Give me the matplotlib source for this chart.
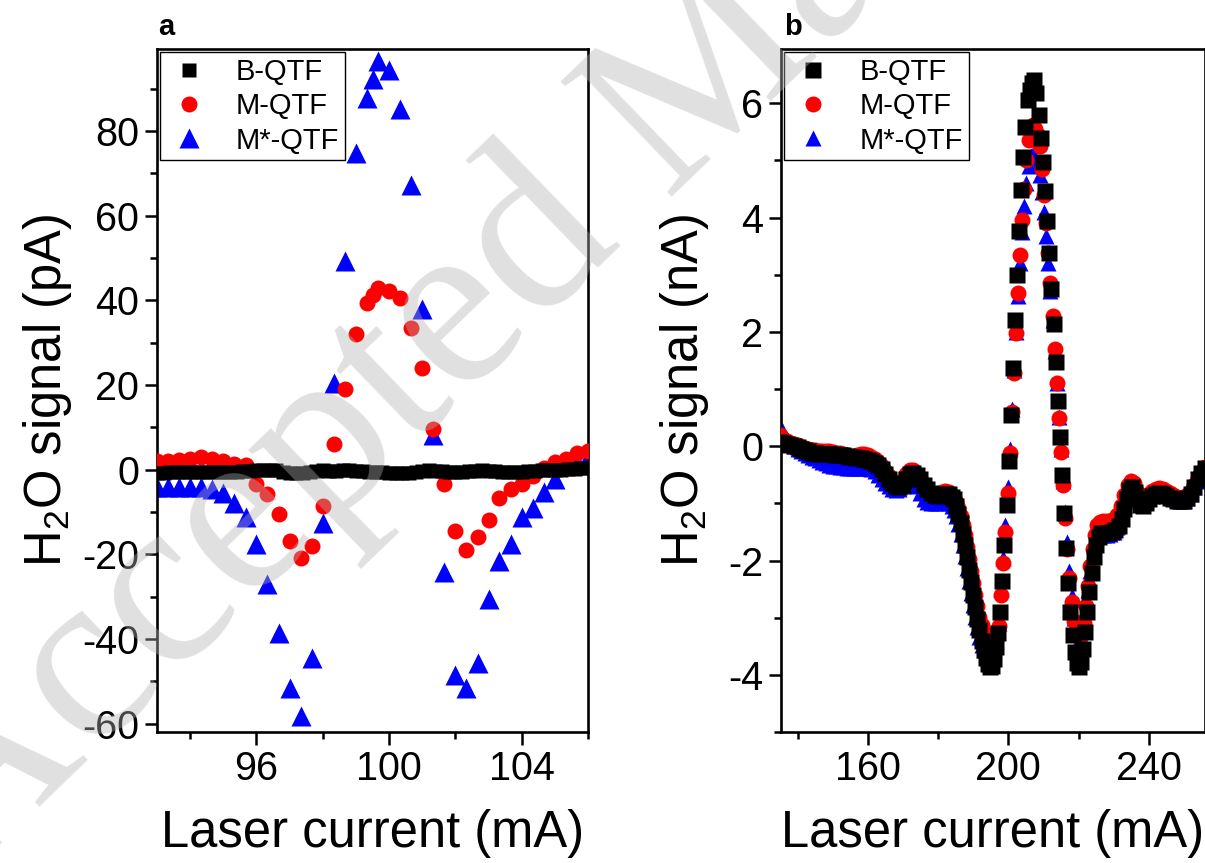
import numpy as np
import matplotlib
matplotlib.use('Agg')
import matplotlib.pyplot as plt
from matplotlib.ticker import MultipleLocator

plt.rcParams['font.family'] = ['Liberation Sans', 'DejaVu Sans']
plt.rcParams['mathtext.fontset'] = 'custom'
plt.rcParams['mathtext.rm'] = 'Liberation Sans'
plt.rcParams['mathtext.it'] = 'Liberation Sans:italic'
plt.rcParams['axes.unicode_minus'] = False

labels = ['B-QTF', 'M-QTF', 'M*-QTF']

# ---- panel a (pA) ----
xa_b = [93.0, 93.2, 93.4, 93.6, 93.8, 94.0, 94.2, 94.4, 94.6, 94.8,
        95.0, 95.2, 95.4, 95.6, 95.8, 96.0, 96.2, 96.4, 96.6, 96.8,
        97.0, 97.2, 97.4, 97.6, 97.8, 98.0, 98.2, 98.4, 98.6, 98.8,
        99.0, 99.2, 99.4, 99.6, 99.8, 100.0, 100.2, 100.4, 100.6, 100.8,
        101.0, 101.2, 101.4, 101.6, 101.8, 102.0, 102.2, 102.4, 102.6, 102.8,
        103.0, 103.2, 103.4, 103.6, 103.8, 104.0, 104.2, 104.4, 104.6, 104.8,
        105.0, 105.2, 105.4, 105.6, 105.8, 106.0]
ya_b = [-0.7, -0.7, -0.65, -0.6, -0.6, -0.55, -0.55, -0.5, -0.5, -0.5,
        -0.5, -0.45, -0.45, -0.4, -0.35, -0.2, -0.1, -0.1, -0.2, -0.5,
        -0.8, -0.9, -0.8, -0.5, -0.3, -0.2, -0.3, -0.3, -0.2, -0.2,
        -0.3, -0.4, -0.5, -0.6, -0.6, -0.7, -0.8, -0.9, -0.8, -0.5,
        -0.3, -0.2, -0.3, -0.4, -0.5, -0.6, -0.5, -0.4, -0.3, -0.2,
        -0.3, -0.4, -0.5, -0.6, -0.6, -0.5, -0.4, -0.3, -0.2, -0.1,
        -0.1, 0.0, 0.1, 0.2, 0.3, 0.4]

xa_m = [93.0, 93.33, 93.67, 94.0, 94.33, 94.67, 95.0, 95.33, 95.67, 96.0,
        96.33, 96.67, 97.0, 97.33, 97.67, 98.0, 98.33, 98.67, 99.0, 99.33,
        99.5, 99.67, 100.0, 100.33, 100.67, 101.0, 101.33, 101.67, 102.0, 102.33,
        102.67, 103.0, 103.33, 103.67, 104.0, 104.33, 104.67, 105.0, 105.33, 105.67,
        106.0]
ya_m = [2.0, 2.1, 2.3, 2.6, 3.0, 2.4, 2.0, 1.4, 1.0, -3.3,
        -5.8, -10.4, -16.8, -20.8, -18.0, -8.5, 6.1, 19.1, 32.1, 39.4,
        41.3, 43.0, 42.3, 40.6, 33.5, 24.0, 9.7, -3.5, -14.4, -18.9,
        -16.0, -12.0, -6.6, -4.5, -3.3, -1.4, 0.5, 1.7, 2.6, 4.0,
        4.5]
ya_s = [-4.0, -4.0, -4.0, -4.0, -4.0, -4.5, -5.5, -7.8, -11.3, -17.5,
        -27.0, -38.5, -51.7, -58.3, -44.4, -12.5, 20.5, 49.3, 74.8, 87.8,
        92.3, 96.6, 94.4, 85.2, 67.3, 38.0, 8.3, -24.3, -48.6, -51.5,
        -45.6, -30.5, -21.5, -17.5, -11.3, -9.0, -5.4, -2.1, 1.0, 1.7,
        2.8]

# ---- panel b (nA) ----
xb_b = [135, 136, 137, 138, 139, 140, 141, 142, 143, 144,
        145, 146, 147, 148, 149, 150, 151, 152, 153, 154,
        155, 156, 157, 158, 159, 160, 161, 162, 163, 164,
        165, 166, 167, 168, 169, 170, 171, 172, 173, 174,
        175, 176, 177, 178, 179, 180, 181, 182, 183, 184,
        184.6, 185.2, 185.8, 186.4, 187.0, 187.6, 188.2, 188.8, 189.4, 190.0,
        190.6, 191.2, 191.8, 192.4, 193.0, 193.6, 194.2, 194.8, 195.4, 196.0,
        196.5,
        197.0, 197.6, 198.2, 198.9, 199.5, 200.1, 200.7, 201.3, 201.9, 202.5,
        203.1, 203.7, 204.2, 204.8, 205.5, 206.1, 206.8, 207.4, 208.0,
        208.7, 209.3, 209.8, 210.5, 211.1, 211.7, 212.3, 212.9, 213.5, 214.1,
        214.7, 215.3, 215.9, 216.5, 217.1, 217.7, 218.3, 218.9, 219.5, 220.1,
        220.7, 221.3, 221.9, 222.5, 223.1, 223.7, 224.3, 225.0,
        225.7, 226.5, 227.5, 228.5, 229.5, 230.5, 231.5, 232.3, 233.0, 233.7,
        234.5, 235.2, 236.0, 236.8, 237.6, 238.4, 239.2, 240.0,
        241, 242, 243, 244, 245, 246, 247, 248, 249, 250,
        251, 252, 253, 254, 255, 256]
yb_b = [0.08, 0.06, 0.04, 0.02, 0.0, -0.02, -0.05, -0.07, -0.09, -0.11,
        -0.12, -0.13, -0.14, -0.14, -0.14, -0.14, -0.15, -0.15, -0.16, -0.17,
        -0.18, -0.19, -0.2, -0.21, -0.22, -0.24, -0.26, -0.29, -0.33, -0.40,
        -0.48, -0.57, -0.65, -0.70, -0.72, -0.68, -0.58, -0.49, -0.47, -0.51,
        -0.58, -0.67, -0.75, -0.82, -0.86, -0.87, -0.85, -0.83, -0.84, -0.88,
        -0.93, -1.05, -1.19, -1.35, -1.53, -1.73, -1.94, -2.16, -2.38, -2.6,
        -2.82, -3.03, -3.22, -3.4, -3.56, -3.7, -3.81, -3.87, -3.85, -3.72,
        -3.52,
        -3.27, -2.9, -2.35, -1.73, -1.03, -0.25, 0.54, 1.36, 2.2, 3.0,
        3.76, 4.48, 5.06, 5.58, 6.05, 6.23, 6.36, 6.4, 6.18,
        5.79, 5.4, 4.97, 4.46, 3.94, 3.38, 2.75, 2.13, 1.47, 0.8,
        0.16, -0.51, -1.17, -1.78, -2.4, -2.9, -3.3, -3.6, -3.8, -3.87,
        -3.78, -3.55, -3.25, -2.9, -2.55, -2.22, -1.94, -1.72,
        -1.58, -1.52, -1.52, -1.52, -1.5, -1.46, -1.4, -1.28, -1.1, -0.92,
        -0.77, -0.72, -0.8, -0.93, -1.02, -1.04, -0.99, -0.93,
        -0.87, -0.83, -0.82, -0.84, -0.87, -0.9, -0.93, -0.95, -0.96, -0.95,
        -0.91, -0.83, -0.72, -0.58, -0.47, -0.38]

xb_m = [135, 136, 137, 138, 139, 140, 141, 142, 143, 144,
        145, 146, 147, 148, 149, 150, 151, 152, 153, 154,
        155, 156, 157, 158, 159, 160, 161, 162, 163, 164,
        165, 166, 167, 168, 169, 170, 171, 172, 173, 174,
        175, 176, 177, 178, 179, 180, 181, 182, 183, 184,
        184.6, 185.2, 185.8, 186.4, 187.0, 187.6, 188.2, 188.8, 189.4, 190.0,
        190.6, 191.2, 191.8, 192.4, 193.0, 193.6, 194.2, 194.8, 195.4, 196.0,
        196.5,
        197.3, 197.9, 198.5, 199.2, 199.8, 200.4, 201.0, 201.6, 202.2, 202.8,
        203.4, 204.0, 204.5, 205.1, 205.8, 206.4, 207.1, 207.7,
        208.4, 209.0, 209.6, 210.2, 210.8, 211.4, 212.0, 212.6, 213.2, 213.8,
        214.4, 215.0, 215.6, 216.2, 216.8, 217.4, 218.0, 218.6, 219.2, 219.8,
        220.4, 221.0, 221.6, 222.2, 222.8, 223.4, 224.0, 224.6, 225.3, 226.0,
        227.0,
        228, 229, 230, 231, 232, 233, 234, 235, 235.8, 236.6,
        237.4, 238.2, 239, 240, 241, 242, 243, 244, 245, 246,
        247, 248, 249, 250, 251, 252, 253, 254, 255, 256]
yb_m = [0.20, 0.13, 0.09, 0.06, 0.04, 0.02, -0.01, -0.03, -0.05, -0.06,
        -0.07, -0.08, -0.08, -0.08, -0.09, -0.10, -0.11, -0.12, -0.14, -0.16,
        -0.17, -0.17, -0.15, -0.14, -0.14, -0.15, -0.18, -0.22, -0.28, -0.35,
        -0.43, -0.52, -0.60, -0.66, -0.67, -0.6, -0.49, -0.42, -0.42, -0.48,
        -0.56, -0.66, -0.75, -0.82, -0.85, -0.84, -0.80, -0.78, -0.80, -0.86,
        -0.9, -0.97, -1.08, -1.22, -1.38, -1.56, -1.76, -1.97, -2.18, -2.4,
        -2.6, -2.8, -2.98, -3.13, -3.25, -3.33, -3.37, -3.38, -3.37, -3.35,
        -3.3,
        -3.15, -2.6, -2.05, -1.5, -0.82, -0.12, 0.6, 1.28, 1.98, 2.68,
        3.34, 3.95, 4.5, 5.0, 5.35, 5.55, 5.62, 5.55,
        5.45, 5.25, 4.85, 4.4, 3.9, 3.38, 2.85, 2.28, 1.7, 1.1,
        0.5, -0.1, -0.68, -1.25, -1.8, -2.3, -2.72, -3.05, -3.25, -3.32,
        -3.32, -3.28, -3.1, -2.8, -2.45, -2.1, -1.8, -1.55, -1.38, -1.32,
        -1.3,
        -1.3, -1.3, -1.27, -1.2, -1.05, -0.85, -0.68, -0.6, -0.65, -0.8,
        -0.9, -0.93, -0.9, -0.84, -0.78, -0.74, -0.73, -0.75, -0.78, -0.82,
        -0.86, -0.89, -0.9, -0.9, -0.86, -0.78, -0.68, -0.56, -0.45, -0.36]
yb_s = [0.35, 0.22, 0.12, 0.05, 0.0, -0.04, -0.08, -0.12, -0.15, -0.18,
        -0.21, -0.24, -0.27, -0.3, -0.32, -0.34, -0.35, -0.36, -0.37, -0.38,
        -0.38, -0.38, -0.38, -0.38, -0.38, -0.38, -0.4, -0.44, -0.5, -0.57,
        -0.64, -0.7, -0.74, -0.76, -0.74, -0.7, -0.62, -0.56, -0.6, -0.7,
        -0.82, -0.92, -0.98, -1.0, -1.0, -0.99, -0.98, -0.98, -1.0, -1.05,
        -1.12, -1.22, -1.36, -1.53, -1.72, -1.92, -2.13, -2.35, -2.56, -2.78,
        -2.98, -3.17, -3.33, -3.47, -3.57, -3.63, -3.65, -3.65, -3.62, -3.55,
        -3.4,
        -3.1, -2.5, -1.95, -1.38, -0.72, -0.05, 0.65, 1.33, 2.0, 2.62,
        3.2, 3.75, 4.2, 4.6, 4.9, 5.08, 5.12, 5.05,
        4.92, 4.75, 4.45, 4.1, 3.68, 3.2, 2.72, 2.2, 1.66, 1.1,
        0.52, -0.05, -0.6, -1.15, -1.68, -2.18, -2.62, -3.0, -3.28, -3.42,
        -3.45, -3.38, -3.18, -2.88, -2.52, -2.18, -1.88, -1.65, -1.55, -1.55,
        -1.55,
        -1.55, -1.53, -1.5, -1.42, -1.25, -1.02, -0.8, -0.68, -0.7, -0.82,
        -0.92, -0.96, -0.92, -0.86, -0.8, -0.76, -0.75, -0.76, -0.8, -0.85,
        -0.9, -0.93, -0.95, -0.95, -0.91, -0.83, -0.72, -0.6, -0.5, -0.42]

fig = plt.figure(figsize=(12.05, 8.63), dpi=100)
W, H = 1205, 863
ax1 = fig.add_axes([157 / W, 131 / H, 431 / W, 683 / H])
ax2 = fig.add_axes([781 / W, 131 / H, 424 / W, 683 / H])


def draw(ax, xb, yb, xm, ym, ys, msize):
    hb, = ax.plot(xb, yb, ls='none', marker='s', ms=msize[0], color='black',
                  mec='none', zorder=4, label=labels[0])
    hm, = ax.plot(xm, ym, ls='none', marker='o', ms=msize[1], color='red',
                  mec='none', zorder=3, label=labels[1])
    hs, = ax.plot(xm, ys, ls='none', marker='^', ms=msize[2], color='blue',
                  mec='none', zorder=2, label=labels[2])
    leg = ax.legend(handles=[hb, hm, hs], loc='upper left', bbox_to_anchor=(0, 1),
                    fontsize=21, frameon=True, fancybox=False, edgecolor='black',
                    framealpha=1, borderpad=0.2, labelspacing=0.22, handlelength=1.6,
                    handletextpad=0.8, borderaxespad=0.1, markerscale=1.0)
    leg.get_frame().set_linewidth(1.0)
    leg.set_zorder(10)


draw(ax1, xa_b, ya_b, xa_m, ya_m, ya_s, (10.5, 11.5, 14))
draw(ax2, xb_b, yb_b, xb_m, yb_m, yb_s, (11, 11.5, 12))

ax1.set_xlim(93, 106)
ax1.set_ylim(-62, 99.4)
ax1.xaxis.set_major_locator(MultipleLocator(4))
ax1.xaxis.set_minor_locator(MultipleLocator(2))
ax1.yaxis.set_major_locator(MultipleLocator(20))
ax1.yaxis.set_minor_locator(MultipleLocator(10))
ax1.set_ylabel('H$_2$O signal (pA)', fontsize=36.5, labelpad=6)

ax2.set_xlim(135.3, 256)
ax2.set_ylim(-5, 6.95)
ax2.xaxis.set_major_locator(MultipleLocator(40))
ax2.xaxis.set_minor_locator(MultipleLocator(20))
ax2.yaxis.set_major_locator(MultipleLocator(2))
ax2.yaxis.set_minor_locator(MultipleLocator(1))
ax2.set_ylabel('H$_2$O signal (nA)', fontsize=36.5, labelpad=12)

for ax in (ax1, ax2):
    ax.set_xlabel('Laser current (mA)', fontsize=36.5, labelpad=15)
    ax.tick_params(which='both', direction='out', width=1.8, labelsize=28.5, pad=4)
    ax.tick_params(which='major', length=9)
    ax.tick_params(which='minor', length=5)
    for s in ax.spines.values():
        s.set_linewidth(1.9)

fig.text(158 / W, 1 - 35 / H, 'a', fontsize=21, fontweight='bold')
fig.text(784 / W, 1 - 35 / H, 'b', fontsize=21, fontweight='bold')

# journal watermark
fig.text(-0.03, -0.02, 'Accepted Manuscript', fontsize=175, family='Liberation Serif',
         rotation=44, rotation_mode='anchor', ha='left', va='baseline',
         color=(0.7, 0.7, 0.7), alpha=0.4, zorder=20)

fig.savefig('out.png', dpi=100)
